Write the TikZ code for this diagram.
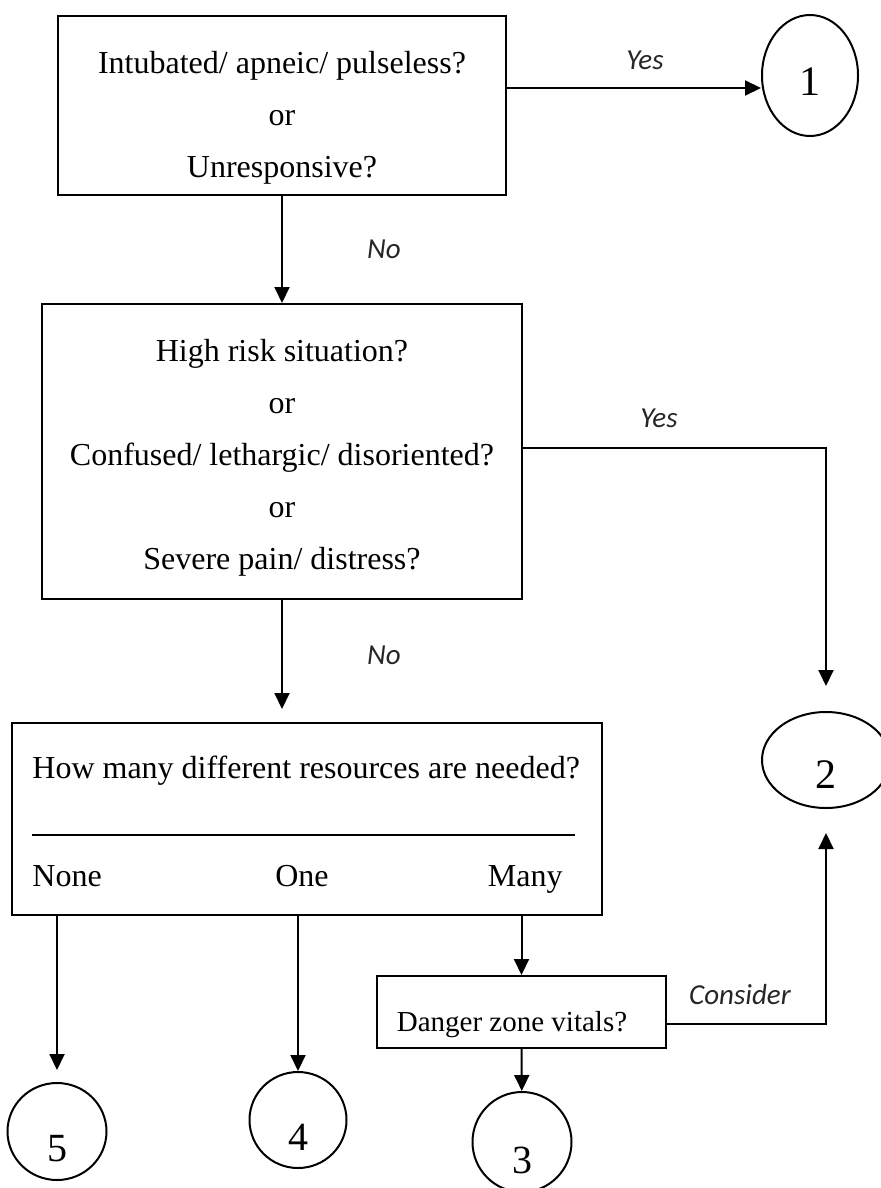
\documentclass[tikz,border=0pt]{standalone}
\usepackage{fontspec}
\setmainfont{Liberation Serif}
\newfontfamily\lblfont{Carlito}
\usetikzlibrary{arrows.meta,shapes.geometric}
\tikzset{
	qbox/.style={draw, line width=1pt, inner sep=0pt, align=center, font=\fontsize{16}{26}\selectfont},
	lvl/.style={draw, ellipse, line width=1pt, inner sep=0pt},
	arr/.style={line width=1pt, -{Triangle[length=8pt,width=7.5pt]}},
	lbl/.style={font=\lblfont\itshape\fontsize{14.5}{16}\selectfont, text=black!85},
	ans/.style={font=\fontsize{16}{19}\selectfont, inner sep=0pt}
}

\begin{document}
\begin{tikzpicture}[x=0.5pt, y=-0.5pt]
		%%%%% START %%%%%
		\useasboundingbox (0, 0) rectangle (881, 1188);
		
		\node[qbox, minimum width=224pt, minimum height=89.5pt] (q1) at (282, 105.5)
			{\rule{0pt}{23pt}Intubated/ apneic/ pulseless?\\or\\Unresponsive?};
		\node[qbox, minimum width=240pt, minimum height=147.5pt] (q2) at (282, 451.5)
			{\rule{0pt}{17pt}High risk situation?\\or\\Confused/ lethargic/ disoriented?\\or\\Severe pain/ distress?};
		\node[qbox, minimum width=295pt, minimum height=96pt] (q3) at (307, 819) {};
		\node[ans, anchor=west] (howmany) at (32, 771) {How many different resources are needed?};
		\draw[line width=0.7pt] (32, 835) -- (575, 835);
		\node[ans, anchor=base west] (none) at (32, 886) {None};
		\node[ans, anchor=base] (one) at (302, 886) {One};
		\node[ans, anchor=base east] (many) at (563, 886) {Many};
		
		\node[qbox, minimum width=144.5pt, minimum height=36pt,
			label={[xshift=-4.75pt, yshift=-6.5pt, font=\fontsize{14.5}{17}\selectfont]center:Danger zone vitals?}]
			(danger) at (521.5, 1012) {};
		
		% levels
		\node[lvl, minimum width=48pt, minimum height=60.5pt,
			label={[yshift=-3.25pt, font=\fontsize{21}{24}\selectfont]center:1}] (c1) at (810, 75.5) {};
		\node[lvl, minimum width=64pt, minimum height=48pt,
			label={[yshift=-7.5pt, font=\fontsize{21}{24}\selectfont]center:2}] (c2) at (826, 760) {};
		\node[lvl, minimum width=49.5pt, minimum height=50pt,
			label={[yshift=-9pt, font=\fontsize{20}{23}\selectfont]center:3}] (c3) at (522, 1142) {};
		\node[lvl, minimum width=48.5pt, minimum height=48pt,
			label={[yshift=-8.5pt, font=\fontsize{20}{23}\selectfont]center:4}] (c4) at (298, 1120) {};
		\node[lvl, minimum width=49.5pt, minimum height=48.5pt,
			label={[yshift=-8.5pt, font=\fontsize{20}{23}\selectfont]center:5}] (c5) at (57, 1131.5) {};
		
		% connectors
		\draw[arr] ([yshift=8.75pt]q1.east) -- ([yshift=8.75pt]q1.east -| c1.west);
		\draw[arr] (q1) -- (q2);
		\draw[arr, shorten >=12.5pt] ([yshift=1.75pt]q2.east) -| (c2);
		\draw[arr, shorten >=6.5pt] (q2) -- (q2 |- q3.north);
		\draw[arr, shorten >=6pt] (c5 |- q3.south) -- (c5);
		\draw[arr] (c4 |- q3.south) -- (c4);
		\draw[arr] (danger |- q3.south) -- (danger);
		\draw[arr] (danger) -- (c3);
		\draw[arr, shorten >=12pt] ([yshift=-6pt]danger.east) -| (c2);
		
		\node[lbl] (yes1) at (645, 60) {Yes};
		\node[lbl] (no1) at (384, 249) {No};
		\node[lbl] (yes2) at (659, 418) {Yes};
		\node[lbl] (no2) at (384, 655) {No};
		\node[lbl] (consider) at (740, 995) {Consider};
		%%%%% END %%%%%
	\end{tikzpicture}
\end{document}
